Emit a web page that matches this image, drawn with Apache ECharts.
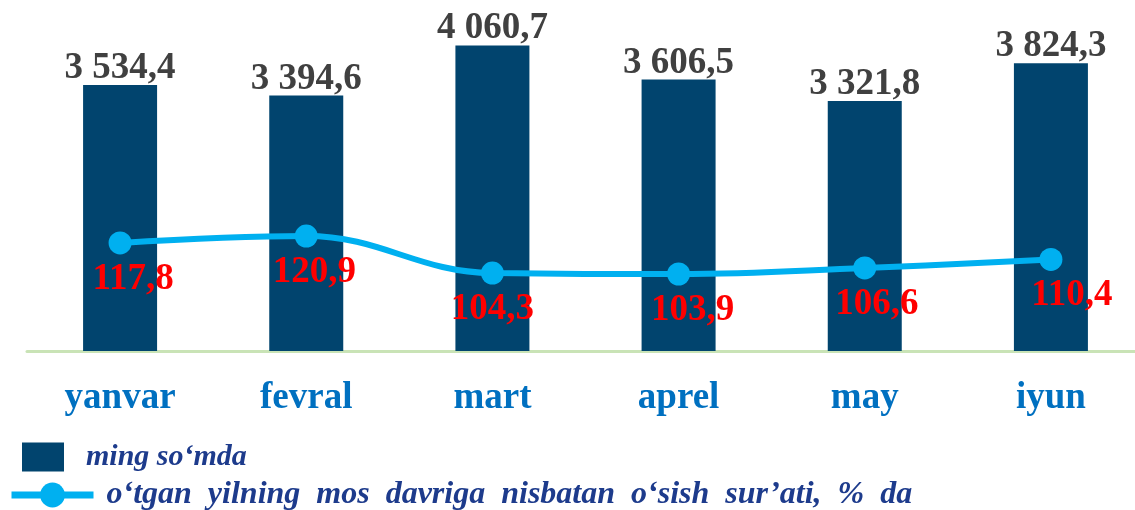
<!DOCTYPE html>
<html>
<head>
<meta charset="utf-8">
<script src="https://cdn.jsdelivr.net/npm/echarts@6/dist/echarts.min.js"></script>
<style>
  html, body { margin: 0; padding: 0; background: #fff; }
  #chart { width: 1135px; height: 510px; }
</style>
</head>
<body>
<div id="chart"></div>
<script>
const months = ['yanvar', 'fevral', 'mart', 'aprel', 'may', 'iyun'];
const amounts = [3534.4, 3394.6, 4060.7, 3606.5, 3321.8, 3824.3];
const growth = [117.8, 120.9, 104.3, 103.9, 106.6, 110.4];
const barName = 'ming so‘mda';
// the original legend is set with wide word spacing
const lineName = 'o‘tgan  yilning  mos  davriga  nisbatan  o‘sish  sur’ati,  %  da';
// small manual nudges of the red labels, like in the original
const labelShift = [13, 8, 0, 14, 12, 21];

const serif = '"Liberation Serif", "DejaVu Serif", serif';

function fmtNum(v) {
  const parts = v.toFixed(1).split('.');
  const int = parts[0].replace(/\B(?=(\d{3})+(?!\d))/g, ' ');
  return int + ',' + parts[1];
}

const chart = echarts.init(document.getElementById('chart'));

const option = {
  animation: false,
  grid: { left: 27, top: 0, width: 1117, height: 351, outerBoundsMode: 'none', containLabel: false },
  legend: [
    {
      data: [barName],
      left: 22, top: 442,
      padding: 0,
      itemWidth: 42, itemHeight: 29,
      icon: 'rect',
      textStyle: {
        fontFamily: serif, fontStyle: 'italic', fontWeight: 'bold',
        fontSize: 30, color: '#1D3B8C', padding: [0, 0, 0, 17]
      }
    },
    {
      data: [lineName],
      left: 8, top: 479,
      padding: 0,
      itemWidth: 82, itemHeight: 31,
      lineStyle: { width: 7 },
      textStyle: {
        fontFamily: serif, fontStyle: 'italic', fontWeight: 'bold',
        fontSize: 32, color: '#1D3B8C', padding: [0, 0, 0, 8]
      }
    }
  ],
  xAxis: {
    type: 'category',
    data: months,
    axisTick: { show: false },
    axisLine: { lineStyle: { color: '#C9E3B6', width: 3 } },
    axisLabel: {
      margin: 29,
      fontFamily: serif, fontWeight: 'bold', fontSize: 37, color: '#0070C0'
    }
  },
  yAxis: [
    { type: 'value', min: 0, max: 4664, show: false, splitLine: { show: false } },
    { type: 'value', min: 69.45, max: 226.5, show: false, splitLine: { show: false } }
  ],
  series: [
    {
      name: barName,
      type: 'bar',
      barWidth: 74,
      data: amounts,
      itemStyle: { color: '#01446E' },
      label: {
        show: true,
        position: 'top',
        distance: -2,
        formatter: p => fmtNum(p.value),
        fontFamily: serif, fontWeight: 'bold', fontSize: 37, color: '#404040'
      }
    },
    {
      name: lineName,
      type: 'line',
      yAxisIndex: 1,
      smooth: 0.4,
      symbol: 'circle',
      symbolSize: 23,
      data: growth.map((v, i) => ({ value: v, label: { offset: [labelShift[i], 0] } })),
      lineStyle: { color: '#00B0F0', width: 6 },
      itemStyle: { color: '#00B0F0' },
      label: {
        show: true,
        position: 'bottom',
        distance: 6,
        formatter: p => fmtNum(p.value),
        fontFamily: serif, fontWeight: 'bold', fontSize: 37, color: '#FF0000'
      }
    }
  ]
};

chart.setOption(option);
</script>
</body>
</html>
